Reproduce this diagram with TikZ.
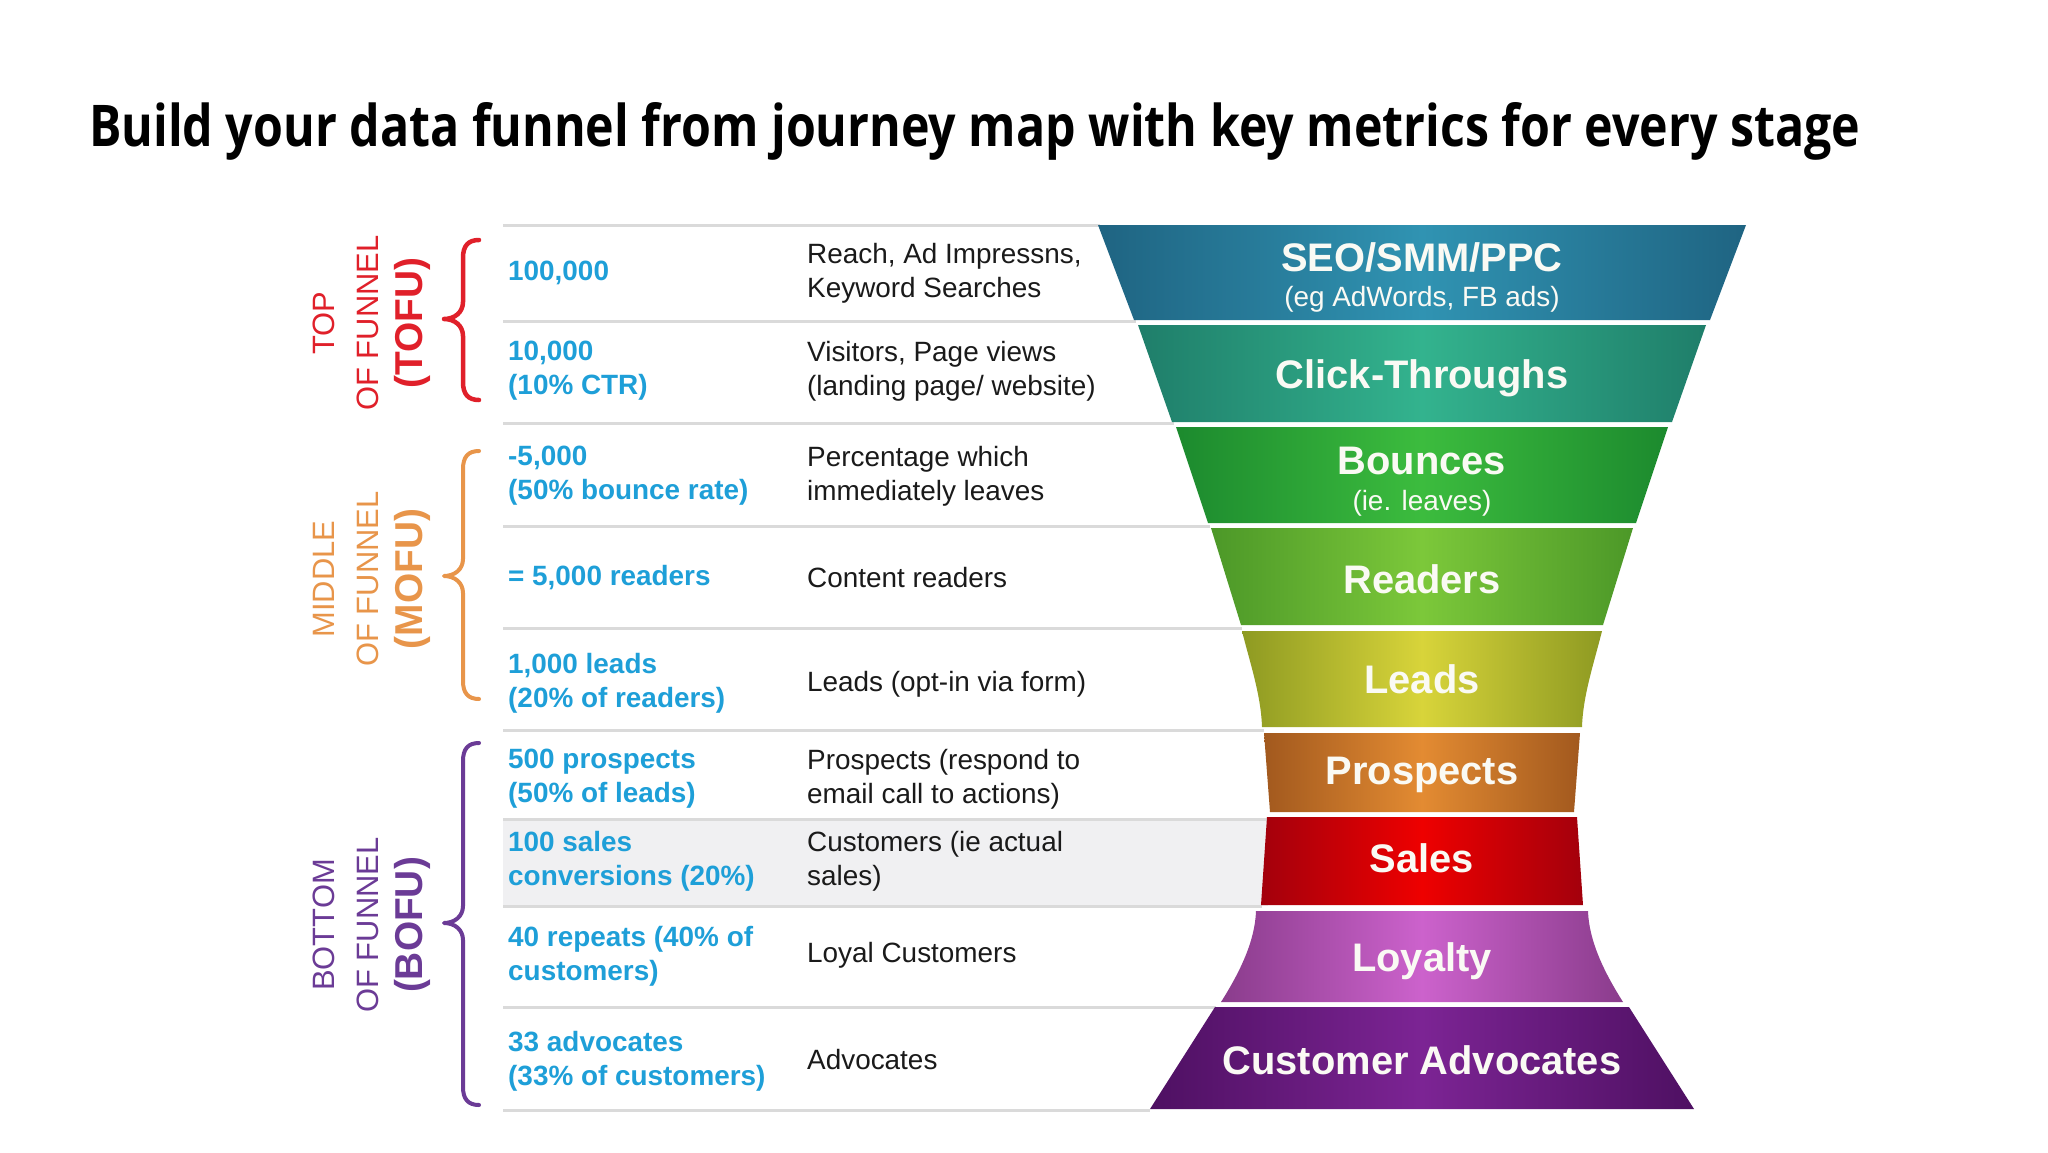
\documentclass[tikz,border=0pt]{standalone}
\usepackage{fontspec}
\usepackage{graphicx}
\setmainfont{Liberation Sans}
\newfontfamily\titlefont{Open Sans}
\definecolor{metricblue}{HTML}{1E9FD8}
\definecolor{desctext}{HTML}{1A1A1A}
\definecolor{linegray}{HTML}{DADADA}
\definecolor{rowgray}{HTML}{F0F0F2}
\definecolor{bandwhite}{HTML}{FAFAF4}
\definecolor{tofucol}{HTML}{E0202A}
\definecolor{mofucol}{HTML}{E8954A}
\definecolor{bofucol}{HTML}{6B3B96}
\definecolor{bAe}{HTML}{1F6482}\definecolor{bAc}{HTML}{3093B2}
\definecolor{bBe}{HTML}{1F7E6A}\definecolor{bBc}{HTML}{33B38E}
\definecolor{bCe}{HTML}{1C8A2E}\definecolor{bCc}{HTML}{3CBC3E}
\definecolor{bDe}{HTML}{4C9828}\definecolor{bDc}{HTML}{7CC83A}
\definecolor{bEe}{HTML}{8E9A22}\definecolor{bEc}{HTML}{D8D43A}
\definecolor{bFe}{HTML}{A2591E}\definecolor{bFc}{HTML}{E38B32}
\definecolor{bGe}{HTML}{A3000C}\definecolor{bGc}{HTML}{EE0000}
\definecolor{bHe}{HTML}{8A3C8C}\definecolor{bHc}{HTML}{CC62CC}
\definecolor{bIe}{HTML}{4E1062}\definecolor{bIc}{HTML}{7C2494}
% straight funnel band: ytop, ybot, half-width top, half-width bottom, edge colour, centre colour
\newcommand\fband[6]{%
  \path[left color=#5, right color=#5, middle color=#6]
    (1422-#3,#1) -- (1422+#3,#1) -- (1422+#4,#2) -- (1422-#4,#2) -- cycle;}
% curly brace: top, tip, bottom, style
\newcommand\grpbrace[4]{%
  \draw[#4] (479,#1) .. controls (468,#1) and (463,#1+6) .. (463,#1+18)
    -- (463,#2-17) .. controls (463,#2-7) and (455,#2) .. (444,#2)
    .. controls (455,#2) and (463,#2+7) .. (463,#2+17)
    -- (463,#3-18) .. controls (463,#3-6) and (468,#3) .. (479,#3);}
\begin{document}
\begin{tikzpicture}[x=1bp,y=-1bp,
  metric/.style={anchor=west, align=left, text=metricblue, inner sep=0pt,
    font=\fontsize{28}{34}\selectfont\bfseries},
  desc/.style={anchor=west, align=left, text=desctext, inner sep=0pt,
    font=\fontsize{28}{34}\selectfont},
  bandlabel/.style={text=bandwhite, inner sep=0pt,
    font=\fontsize{40}{44}\selectfont\bfseries},
  bandsub/.style={text=bandwhite, inner sep=0pt,
    font=\fontsize{28}{30}\selectfont},
  rowline/.style={draw=linegray, line width=3bp},
  grp/.style={rotate=90, inner sep=0pt, font=\fontsize{31}{36}\selectfont},
  grpb/.style={rotate=90, inner sep=0pt, font=\fontsize{39}{40}\selectfont\bfseries},
  bracestyle/.style={line width=4.5bp, line cap=round, line join=round}]
\useasboundingbox[fill=white] (0,0) rectangle (2048,1152);

% title
\node[anchor=base west, inner sep=0pt] (title) at (89,146)
  {\resizebox{1771bp}{44bp}{\titlefont\bfseries Build your data funnel from journey map with key metrics for every stage}};

% shaded row
\fill[rowgray] (503,819) rectangle (1268,906);

% row lines
\foreach \yy/\xx in {225/1100,321/1136,423/1174,526/1210,628/1242,730/1264,819/1267,906/1262,1007/1216,1110/1150}
  \draw[rowline] (503,\yy) -- (\xx,\yy);

% funnel bands
\fband{225}{320}{324}{288}{bAe}{bAc}
\fband{325}{422}{284}{250}{bBe}{bBc}
\fband{427}{523}{246}{214}{bCe}{bCc}
\fband{528}{625}{211}{181}{bDe}{bDc}
\path[left color=bEe, right color=bEe, middle color=bEc]
  (1422-180,631) -- (1422+180,631) .. controls (1422+172,663) and (1422+161,695) .. (1422+160,727)
  -- (1422-160,727) .. controls (1422-161,695) and (1422-172,663) .. (1422-180,631) -- cycle;
\fband{733}{812}{158}{152}{bFe}{bFc}
\fband{817}{905}{155}{161}{bGe}{bGc}
\path[left color=bHe, right color=bHe, middle color=bHc]
  (1422-166,911) -- (1422+166,911) .. controls (1422+167,941) and (1422+182,972) .. (1422+201,1002)
  -- (1422-201,1002) .. controls (1422-182,972) and (1422-167,941) .. (1422-166,911) -- cycle;
\fband{1007}{1109}{207}{272}{bIe}{bIc}

% funnel labels
\node[bandlabel] (f1) at (1422,257) {SEO/SMM/PPC};
\node[bandsub] (f1s) at (1422,299) {(eg AdWords, FB ads)};
\node[bandlabel] (f2) at (1422,378) {Click-Throughs};
\node[bandlabel] (f3) at (1422,461) {Bounces};
\node[bandsub] (f3s) at (1422,503) {(ie. leaves)};
\node[bandlabel] (f4) at (1422,579) {Readers};
\node[bandlabel] (f5) at (1422,679) {Leads};
\node[bandlabel] (f6) at (1422,775) {Prospects};
\node[bandlabel] (f7) at (1422,858) {Sales};
\node[bandlabel] (f8) at (1422,961) {Loyalty};
\node[bandlabel] (f9) at (1422,1060) {Customer Advocates};

% metrics
\node[metric] (m1) at (508,273) {100,000};
\node[metric] (m2) at (508,371) {10,000\\(10\% CTR)};
\node[metric] (m3) at (508,476) {-5,000\\(50\% bounce rate)};
\node[metric] (m4) at (508,578) {= 5,000 readers};
\node[metric] (m5) at (508,683) {1,000 leads\\(20\% of readers)};
\node[metric] (m6) at (508,779) {500 prospects\\(50\% of leads)};
\node[metric] (m7) at (508,861) {100 sales\\conversions (20\%)};
\node[metric] (m8) at (508,956) {40 repeats (40\% of\\customers)};
\node[metric] (m9) at (508,1061) {33 advocates\\(33\% of customers)};

% descriptions
\node[desc] (d1) at (807,273) {Reach, Ad Impressns,\\Keyword Searches};
\node[desc] (d2) at (807,371) {Visitors, Page views\\(landing page/ website)};
\node[desc] (d3) at (807,476) {Percentage which\\immediately leaves};
\node[desc] (d4) at (807,578) {Content readers};
\node[desc] (d5) at (807,684) {Leads (opt-in via form)};
\node[desc] (d6) at (807,779) {Prospects (respond to\\email call to actions)};
\node[desc] (d7) at (807,861) {Customers (ie actual\\sales)};
\node[desc] (d8) at (807,955) {Loyal Customers};
\node[desc] (d9) at (807,1060) {Advocates};

% group labels
\node[grp, text=tofucol] (tofuA) at (324,323) {TOP};
\node[grp, text=tofucol] (tofuB) at (368,323) {OF FUNNEL};
\node[grpb, text=tofucol] (tofuC) at (412,323) {(TOFU)};
\node[grp, text=mofucol] (mofuA) at (324,579) {MIDDLE};
\node[grp, text=mofucol] (mofuB) at (368,579) {OF FUNNEL};
\node[grpb, text=mofucol] (mofuC) at (412,579) {(MOFU)};
\node[grp, text=bofucol] (bofuA) at (324,925) {BOTTOM};
\node[grp, text=bofucol] (bofuB) at (368,925) {OF FUNNEL};
\node[grpb, text=bofucol] (bofuC) at (412,925) {(BOFU)};

% braces
\grpbrace{240}{319}{400}{bracestyle, draw=tofucol}
\grpbrace{451}{576}{699}{bracestyle, draw=mofucol, line width=4bp}
\grpbrace{743}{923}{1105}{bracestyle, draw=bofucol, line width=4bp}
\end{tikzpicture}
\end{document}
